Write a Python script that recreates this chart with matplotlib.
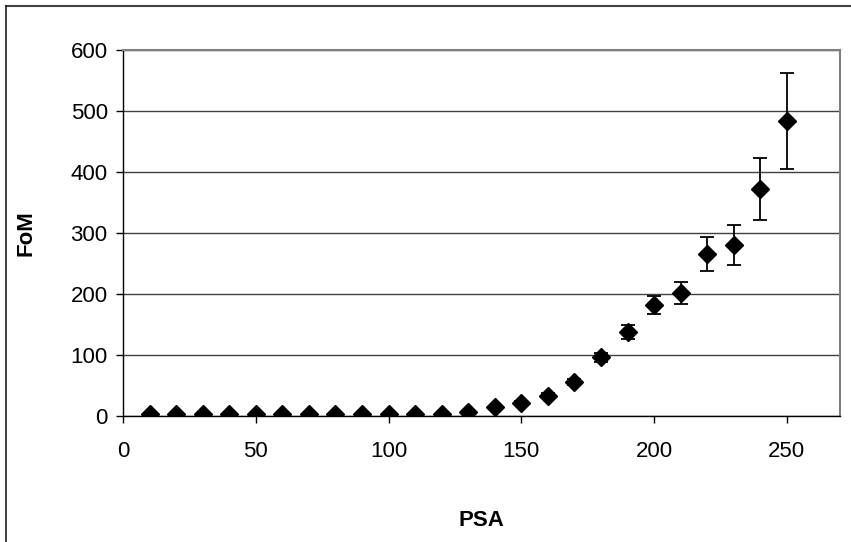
import matplotlib
matplotlib.use("Agg")
import matplotlib.pyplot as plt
from matplotlib.lines import Line2D

plt.rcParams['font.family'] = ['Liberation Sans', 'DejaVu Sans']

psa = [10, 20, 30, 40, 50, 60, 70, 80, 90, 100, 110, 120, 130,
       140, 150, 160, 170, 180, 190, 200, 210, 220, 230, 240, 250]
fom = [3, 3, 3, 3, 3, 3, 3, 3, 3, 3, 3, 3, 6,
       14, 21, 33, 56, 96, 138, 182, 201, 266, 280, 372, 484]
fom_err = [0.5, 0.5, 0.5, 0.5, 0.5, 0.5, 0.5, 0.5, 0.5, 0.5, 0.5, 0.5, 1,
           2, 3, 4, 5, 7, 11, 15, 18, 28, 33, 51, 79]
x_ticks = [0, 50, 100, 150, 200, 250]
y_ticks = [0, 100, 200, 300, 400, 500, 600]

fig = plt.figure(figsize=(8.51, 5.42), dpi=100)
ax = fig.add_axes([0.1445, 0.2325, 0.8425, 0.6752])

ax.errorbar(psa, fom, yerr=fom_err, fmt='D', color='black', ecolor='black',
            markersize=9, elinewidth=1.3, capsize=5, capthick=1.3, zorder=3)

ax.set_xlim(0, 270)
ax.set_ylim(0, 600)
ax.set_xticks(x_ticks)
ax.set_yticks(y_ticks)
ax.yaxis.grid(True, color='#404040', linewidth=1.0)
ax.set_axisbelow(True)

ax.tick_params(axis='both', direction='out', length=5, width=1, color='black',
               labelsize=16, pad=6)
ax.tick_params(axis='x', pad=13)

for side in ('left', 'bottom'):
    ax.spines[side].set_color('black')
    ax.spines[side].set_linewidth(1.0)
for side in ('top', 'right'):
    ax.spines[side].set_color('#808080')
    ax.spines[side].set_linewidth(1.5)

fig.text(0.5652, 0.039, 'PSA', ha='center', va='center', fontsize=16, fontweight='bold')
fig.text(0.030, 0.57, 'FoM', ha='center', va='center', rotation=90, fontsize=16,
         fontweight='bold')

# outer chart frame (top and left edges)
fig.add_artist(Line2D([6 / 851, 1.0], [1 - 5.5 / 542, 1 - 5.5 / 542],
                      transform=fig.transFigure, color='#404040', linewidth=1.5))
fig.add_artist(Line2D([6 / 851, 6 / 851], [0.0, 1 - 5.5 / 542],
                      transform=fig.transFigure, color='#202020', linewidth=1.2))

fig.savefig('out.png', dpi=100)
